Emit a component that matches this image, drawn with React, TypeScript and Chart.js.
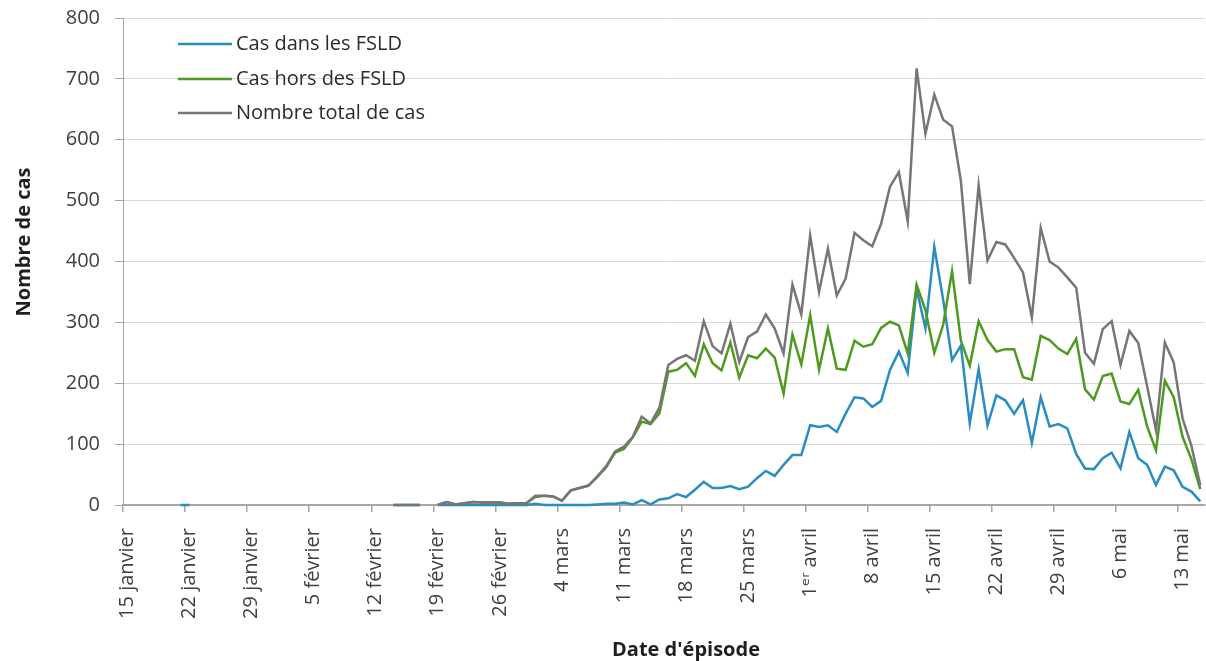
import React, { useEffect, useRef } from "react";
import { Chart, registerables } from "chart.js";

Chart.register(...registerables);

// Categories: one per day, 15 janvier → 15 mai (2020)
const MONTH_RANGES: [string, number, number][] = [
  ["janvier", 15, 31],
  ["février", 1, 29],
  ["mars", 1, 31],
  ["avril", 1, 30],
  ["mai", 1, 15],
];
const DAYS: string[] = [];
for (const [m, a, b] of MONTH_RANGES) for (let d = a; d <= b; d++) DAYS.push(`${d} ${m}`);

const TICK_LABELS = [
  "15 janvier", "22 janvier", "29 janvier", "5 février", "12 février", "19 février",
  "26 février", "4 mars", "11 mars", "18 mars", "25 mars", "1ᵉʳ avril",
  "8 avril", "15 avril", "22 avril", "29 avril", "6 mai", "13 mai",
];

const N = null;
// Cas dans les FSLD
const CAS_FSLD = [
  N, N, N, N, N, N, 0, 0, N, N,
  N, N, N, N, N, N, N, N, N, N,
  N, N, N, N, N, N, N, N, N, N,
  0, 0, 0, 0, N,
  0, 0, 0, 0, 0, 0, 0, 0, 0, 0,
  0, 2, 0, 0, 0, 0, 0, 0, 1, 2,
  2, 4, 1, 8, 1, 9, 11, 18, 13, 25,
  38, 28, 28, 31, 26, 30, 44, 56, 48, 66,
  82, 82, 131, 128, 131, 120, 150, 177, 175, 161,
  171, 222, 252, 217, 355, 290, 424, 337, 238, 262,
  134, 223, 131, 180, 172, 150, 172, 102, 177, 129,
  133, 126, 84, 60, 59, 77, 86, 60, 120, 77,
  66, 33, 63, 57, 30, 22, 6,
];
// Cas hors des FSLD
const CAS_HORS = [
  N, N, N, N, N, N, N, N, N, N,
  N, N, N, N, N, N, N, N, N, N,
  N, N, N, N, N, N, N, N, N, N,
  N, N, N, N, N,
  0, 5, 1, 3, 5, 4, 4, 4, 2, 3,
  3, 13, 15, 14, 7, 24, 28, 32, 46, 62,
  86, 92, 111, 137, 133, 151, 219, 222, 233, 212,
  264, 233, 221, 267, 209, 246, 241, 257, 242, 183,
  280, 231, 312, 222, 290, 224, 222, 270, 260, 264,
  291, 301, 295, 249, 362, 320, 250, 296, 384, 270,
  229, 302, 271, 252, 256, 256, 210, 206, 278, 271,
  257, 248, 273, 190, 173, 212, 216, 170, 166, 189,
  129, 90, 204, 177, 112, 75, 26,
];
// Nombre total de cas
const CAS_TOTAL = [
  N, N, N, N, N, N, N, N, N, N,
  N, N, N, N, N, N, N, N, N, N,
  N, N, N, N, N, N, N, N, N, N,
  0, 0, 0, 0, N,
  0, 5, 1, 3, 5, 4, 4, 4, 2, 3,
  3, 15, 15, 14, 7, 24, 28, 32, 47, 64,
  88, 96, 112, 145, 134, 160, 230, 240, 246, 237,
  302, 261, 249, 298, 235, 276, 285, 313, 290, 249,
  362, 313, 443, 350, 421, 344, 372, 447, 435, 425,
  462, 523, 547, 466, 717, 610, 674, 633, 622, 532,
  363, 525, 402, 432, 428, 406, 382, 308, 455, 400,
  390, 374, 357, 250, 232, 289, 302, 230, 286, 266,
  195, 123, 267, 234, 142, 97, 32,
];

const SERIES_NAMES = ["Cas dans les FSLD", "Cas hors des FSLD", "Nombre total de cas"];
const SERIES_COLORS = ["#2a8cc0", "#4e9a1e", "#767676"];
const Y_TITLE = "Nombre de cas";
const X_TITLE = "Date d'épisode";

const FONT = "'Open Sans', 'DejaVu Sans', sans-serif";

const overlayPlugin = {
  id: "overlay",
  afterDraw(chart: any) {
    const ctx = chart.ctx as CanvasRenderingContext2D;
    ctx.save();
    // legend
    const rows = [44, 79, 113];
    chart.data.datasets.forEach((ds: any, i: number) => {
      const y = rows[i];
      ctx.strokeStyle = ds.borderColor;
      ctx.lineWidth = 2.5;
      ctx.beginPath();
      ctx.moveTo(178, y);
      ctx.lineTo(232, y);
      ctx.stroke();
      ctx.fillStyle = "#2b2b2b";
      ctx.font = `20px ${FONT}`;
      ctx.textAlign = "left";
      ctx.textBaseline = "middle";
      ctx.fillText(ds.label, 236, y);
    });
    // axis titles
    ctx.fillStyle = "#1f1f1f";
    ctx.font = `bold 20px ${FONT}`;
    ctx.textAlign = "center";
    ctx.textBaseline = "middle";
    ctx.fillText(X_TITLE, 686, 650);
    ctx.translate(24, 242);
    ctx.rotate(-Math.PI / 2);
    ctx.fillText(Y_TITLE, 0, 0);
    ctx.restore();
  },
};

export default function App() {
  const ref = useRef<HTMLCanvasElement | null>(null);
  useEffect(() => {
    if (!ref.current) return;
    const series = [CAS_FSLD, CAS_HORS, CAS_TOTAL];
    const chart = new Chart(ref.current, {
      type: "line",
      data: {
        labels: DAYS,
        datasets: series.map((d, i) => ({
          label: SERIES_NAMES[i],
          data: d,
          borderColor: SERIES_COLORS[i],
          backgroundColor: SERIES_COLORS[i],
          borderWidth: 2.5,
          pointRadius: 0,
          tension: 0,
          spanGaps: false,
          clip: false,
          order: 2 - i,
        })),
      },
      options: {
        responsive: false,
        animation: false,
        layout: { padding: { top: 18, right: 1, bottom: 0, left: 0 } },
        plugins: { legend: { display: false }, tooltip: { enabled: false } },
        scales: {
          x: {
            type: "category",
            offset: true,
            grid: {
              offset: true,
              drawOnChartArea: false,
              drawTicks: true,
              tickLength: 7,
              lineWidth: 1.5,
              color: (c: any) => (typeof c.index === "number" && c.index % 7 === 0 ? "#a6a6a6" : "rgba(0,0,0,0)"),
            },
            border: { display: true, color: "#a6a6a6", width: 2 },
            ticks: {
              autoSkip: false,
              minRotation: 90,
              maxRotation: 90,
              padding: 16,
              color: "#404040",
              font: { family: FONT, size: 20 },
              callback: (_v: any, i: number) => (i % 7 === 0 ? TICK_LABELS[i / 7] : ""),
            },
            afterFit: (s: any) => {
              s.height = 156;
              s.paddingLeft = 0;
              s.paddingRight = 0;
            },
          },
          y: {
            min: 0,
            max: 800,
            grid: { color: "#d9d9d9", lineWidth: 1, tickLength: 8, tickColor: "#a6a6a6" },
            border: { display: true, color: "#a6a6a6", width: 1 },
            ticks: {
              stepSize: 100,
              padding: 15,
              color: "#404040",
              font: { family: FONT, size: 20 },
            },
            afterFit: (s: any) => {
              s.width = 123;
              s.paddingTop = 0;
              s.paddingBottom = 0;
            },
          },
        },
      },
      plugins: [overlayPlugin],
    });
    let alive = true;
    if ((document as any).fonts?.load) {
      Promise.all([
        (document as any).fonts.load(`20px 'Open Sans'`),
        (document as any).fonts.load(`bold 20px 'Open Sans'`),
      ]).then(() => {
        if (alive) chart.update();
      }).catch(() => {});
    }
    return () => {
      alive = false;
      chart.destroy();
    };
  }, []);
  return (
    <div style={{ position: "fixed", left: 0, top: 0, width: 1206, height: 661, background: "#fff" }}>
      <canvas ref={ref} width={1206} height={661} style={{ display: "block" }} />
    </div>
  );
}
